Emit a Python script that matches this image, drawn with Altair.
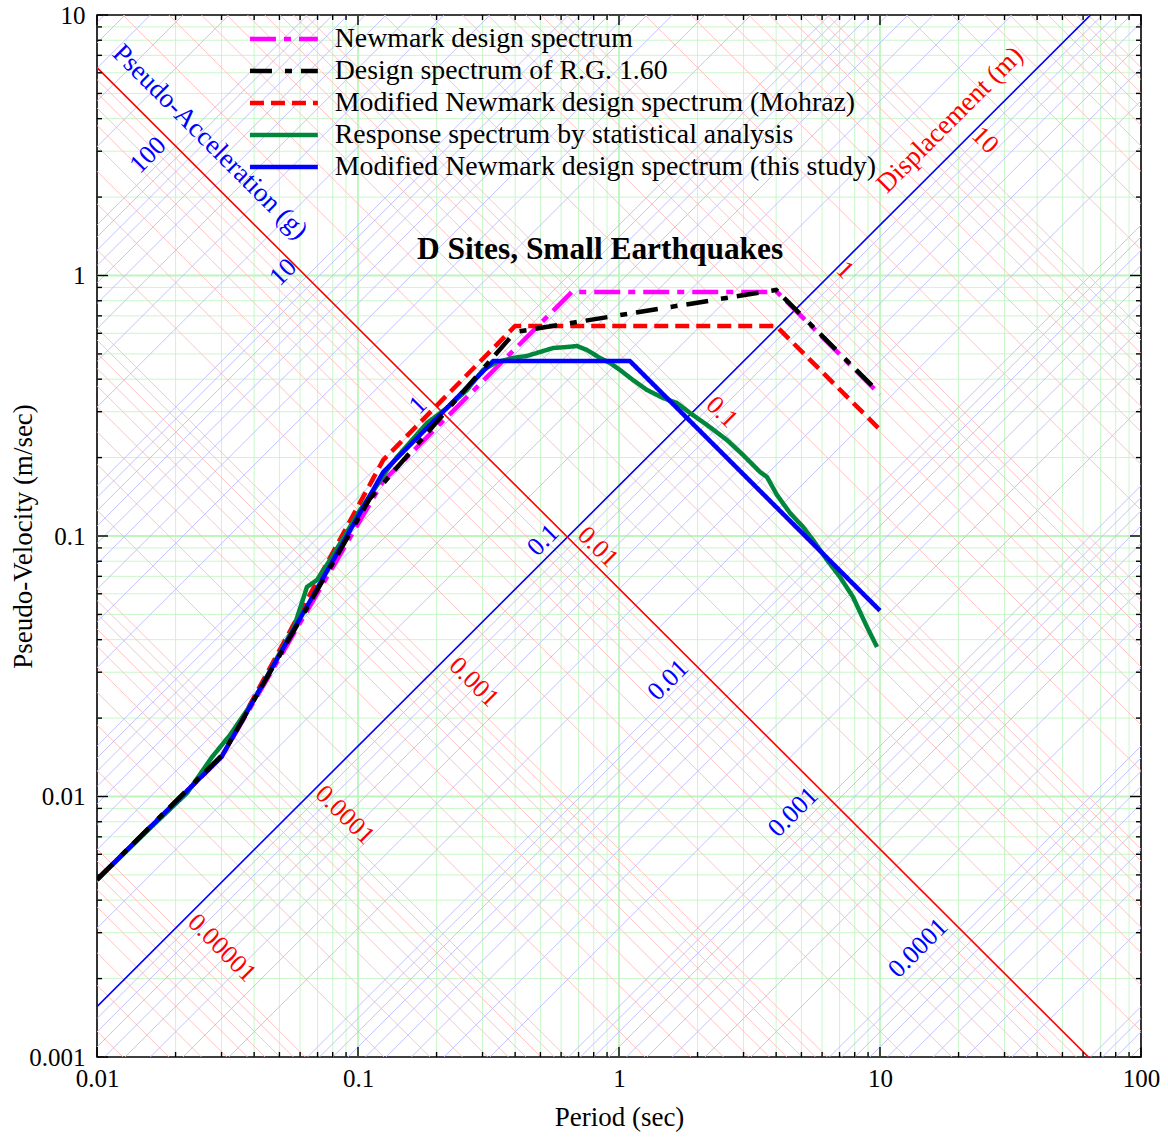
import altair as alt
import pandas as pd
import numpy as np

FONT = "Liberation Serif"
G = 9.81
TWO_PI = 2 * np.pi

T_MIN, T_MAX = 0.01, 100.0
V_MIN, V_MAX = 0.001, 10.0
W, H = 1044, 1042

# ---------------- data ----------------
series_names = [
    "Newmark design spectrum",
    "Design spectrum of R.G. 1.60",
    "Modified Newmark design spectrum (Mohraz)",
    "Response spectrum by statistical analysis",
    "Modified Newmark design spectrum (this study)",
]
series_colors = ["#ff00ff", "#000000", "#ff0000", "#00873c", "#0000ff"]
series_dashes = [[26, 8, 7, 8], [22, 13, 7, 9], [14, 7], [1, 0], [1, 0]]

newmark_T = [0.01, 0.03, 0.125, 0.66, 4.03, 10.0]
newmark_V = [0.0048, 0.0142, 0.1626, 0.865, 0.865, 0.349]

rg160_T = [0.01, 0.0303, 0.111, 0.4, 4.0, 10.0]
rg160_V = [0.0048, 0.0145, 0.139, 0.607, 0.88, 0.352]

mohraz_T = [0.01, 0.03, 0.125, 0.4, 4.0, 10.0]
mohraz_V = [0.0048, 0.0142, 0.196, 0.64, 0.64, 0.256]

study_T = [0.01, 0.03, 0.125, 0.33, 1.1, 10.0]
study_V = [0.0048, 0.0142, 0.176, 0.47, 0.47, 0.0517]

stat_T = [0.01, 0.01555, 0.02212, 0.02758, 0.03233, 0.03995, 0.05686,
          0.06374, 0.06965, 0.07811, 0.08838, 0.1018, 0.1151, 0.1291, 0.1411,
          0.1838, 0.2193, 0.2616, 0.3012, 0.3408, 0.3925, 0.4441, 0.4981,
          0.5587, 0.6321, 0.6903, 0.7541, 0.8456, 0.9237, 1.009, 1.131, 1.280,
          1.474, 1.668, 1.871, 2.174, 2.593, 2.987, 3.469, 3.690, 4.031, 4.521,
          5.070, 5.538, 6.266, 7.025, 7.881, 8.919, 9.739]
stat_V = [0.00478, 0.00737, 0.01031, 0.01417, 0.01722, 0.02347, 0.04473,
          0.0637, 0.0678, 0.08089, 0.09913, 0.1258, 0.1502, 0.1792, 0.2010,
          0.2716, 0.3100, 0.3636, 0.4338, 0.4655, 0.4825, 0.4911, 0.5086,
          0.5268, 0.5315, 0.5362, 0.5176, 0.4825, 0.4616, 0.4338, 0.3970, 0.3636,
          0.3387, 0.3240, 0.2966, 0.2668, 0.2336, 0.2046, 0.1761, 0.1684, 0.1437, 0.1225,
          0.1083, 0.09652, 0.08089, 0.06962, 0.05832, 0.04473, 0.0375]

series_T = [newmark_T, rg160_T, mohraz_T, stat_T, study_T]
series_V = [newmark_V, rg160_V, mohraz_V, stat_V, study_V]
draw_order = [0, 2, 3, 4, 1]

x_major = [0.01, 0.1, 1, 10, 100]
y_major = [0.001, 0.01, 0.1, 1, 10]
x_minor = [m * 10.0 ** k for k in range(-2, 2) for m in range(2, 10)]
y_minor = [m * 10.0 ** k for k in range(-3, 1) for m in range(2, 10)]

# diagonal axis labels
acc_label_text = ["100", "10", "1", "0.1", "0.01", "0.001", "0.0001"]
acc_label_T = [0.01568, 0.05161, 0.1698, 0.5115, 1.541, 4.642, 13.98]
acc_label_V = [2.901, 1.031, 0.3184, 0.0965, 0.02801, 0.008719, 0.002621]
disp_label_text = ["10", "1", "0.1", "0.01", "0.001", "0.0001", "0.00001"]
disp_label_T = [25.26, 7.343, 2.481, 0.8307, 0.2782, 0.08915, 0.03012]
disp_label_V = [3.313, 1.050, 0.2992, 0.09073, 0.02751, 0.008492, 0.002621]

chart_title = "D Sites, Small Earthquakes"
title_T, title_V = 0.846, 1.253
acc_title = "Pseudo-Acceleration (g)"
acc_title_T, acc_title_V = 0.0271, 3.254
disp_title = "Displacement (m)"
disp_title_T, disp_title_V = 18.54, 3.953

# ---------------- scales / axes ----------------
xs = alt.Scale(type="log", domain=[T_MIN, T_MAX])
ys = alt.Scale(type="log", domain=[V_MIN, V_MAX])

X_AX = alt.Axis(
    values=x_major, format="~g", labelFont=FONT, labelFontSize=25,
    labelColor="black", labelPadding=9, ticks=False, domain=False, grid=False,
    labelFlush=False, labelOverlap=False,
    title="Period (sec)", titleFont=FONT, titleFontSize=27,
    titleFontWeight="normal", titleColor="black", titleY=60,
    titleBaseline="middle")
Y_AX = alt.Axis(
    values=y_major, format="~g", labelFont=FONT, labelFontSize=25,
    labelColor="black", labelPadding=12, ticks=False, domain=False, grid=False,
    labelFlush=False, labelOverlap=False,
    title="Pseudo-Velocity (m/sec)", titleFont=FONT, titleFontSize=27,
    titleFontWeight="normal", titleColor="black", titleX=-74,
    titleBaseline="middle")


def X(field="T"):
    return alt.X(f"{field}:Q", scale=xs, axis=X_AX)


def Y(field="V"):
    return alt.Y(f"{field}:Q", scale=ys, axis=Y_AX)


GRID_GREEN = "#bdf5bd"
LIGHT_RED = "#ffbcbc"
LIGHT_BLUE = "#bcbcff"

layers = []

# green grid
vg = pd.DataFrame({"T": x_major[1:-1] + x_minor,
                   "w": [1.8] * 3 + [0.8] * len(x_minor)})
layers.append(alt.Chart(vg).mark_rule(color=GRID_GREEN).encode(
    x=X(), strokeWidth=alt.StrokeWidth("w:Q", scale=None)))

hg = pd.DataFrame({"V": y_major[1:-1] + y_minor,
                   "w": [1.8] * 3 + [0.8] * len(y_minor)})
layers.append(alt.Chart(hg).mark_rule(color=GRID_GREEN).encode(
    y=Y(), strokeWidth=alt.StrokeWidth("w:Q", scale=None)))

# tripartite diagonal grid
rows = []
for k in range(-6, 4):
    for m in range(1, 10):
        val = m * 10.0 ** k
        for t in (T_MIN, T_MAX):
            rows.append({"id": f"a{k}_{m}", "T": t, "V": val * G * t / TWO_PI, "c": LIGHT_BLUE})
            rows.append({"id": f"d{k}_{m}", "T": t, "V": TWO_PI * val / t, "c": LIGHT_RED})
diag = pd.DataFrame(rows)
layers.append(alt.Chart(diag).mark_line(clip=True, strokeWidth=0.9).encode(
    x=X(), y=Y(), detail="id:N", color=alt.Color("c:N", scale=None)))

main_rows = []
for t in (T_MIN, T_MAX):
    main_rows.append({"id": "acc", "T": t, "V": 0.1 * G * t / TWO_PI, "c": "#0000ff"})
    main_rows.append({"id": "disp", "T": t, "V": TWO_PI * 0.01 / t, "c": "#ff0000"})
layers.append(alt.Chart(pd.DataFrame(main_rows)).mark_line(clip=True, strokeWidth=1.6).encode(
    x=X(), y=Y(), detail="id:N", color=alt.Color("c:N", scale=None)))

# diagonal labels
lab = pd.DataFrame({
    "txt": acc_label_text + disp_label_text + [acc_title, disp_title],
    "T": acc_label_T + disp_label_T + [acc_title_T, disp_title_T],
    "V": acc_label_V + disp_label_V + [acc_title_V, disp_title_V],
    "ang": [315] * 7 + [45] * 7 + [45, 315],
    "c": ["#0000ff"] * 7 + ["#ff0000"] * 7 + ["#0000ff", "#ff0000"],
    "fs": [26] * 14 + [27, 27],
})
layers.append(alt.Chart(lab).mark_text(font=FONT, baseline="middle", align="center").encode(
    x=X(), y=Y(), text="txt:N",
    angle=alt.Angle("ang:Q", scale=None),
    color=alt.Color("c:N", scale=None),
    size=alt.Size("fs:Q", scale=None)))

layers.append(alt.Chart(pd.DataFrame({"T": [title_T], "V": [title_V], "txt": [chart_title]}))
              .mark_text(font=FONT, fontSize=31.4, fontWeight="bold", color="black",
                         baseline="middle", align="center").encode(
    x=X(), y=Y(), text="txt:N"))

# spectra
sdf = pd.DataFrame([
    {"series": series_names[i], "T": t, "V": v}
    for i in range(5) for t, v in zip(series_T[i], series_V[i])
])
# long horizontal stroke as a custom legend symbol (small nominal size keeps rows compact)
legend = alt.Legend(title=None, orient="none", legendX=173, legendY=10,
                    symbolType="M-6,0H6", symbolSize=128, symbolStrokeWidth=4.5,
                    labelFont=FONT, labelFontSize=27.8, labelColor="black",
                    labelOffset=37, rowPadding=3, padding=0, labelLimit=800)
for i in draw_order:
    layers.append(alt.Chart(sdf).transform_filter(
        alt.datum.series == series_names[i]).mark_line(
        strokeWidth=4.5, strokeCap="butt", clip=True).encode(
        x=X(), y=Y(),
        color=alt.Color("series:N", sort=series_names,
                        scale=alt.Scale(domain=series_names, range=series_colors),
                        legend=legend),
        strokeDash=alt.StrokeDash("series:N", sort=series_names,
                                  scale=alt.Scale(domain=series_names, range=series_dashes),
                                  legend=legend),
        order=alt.Order("T:Q")))


# inward ticks on all four sides
def xticks(vals, length, side):
    df = pd.DataFrame({"T": vals})
    if side == "bottom":
        yv, y2v = alt.value(H), alt.value(H - length)
    else:
        yv, y2v = alt.value(0), alt.value(length)
    return alt.Chart(df).mark_rule(color="black", strokeWidth=1.4).encode(
        x=X(), y=yv, y2=y2v)


def yticks(vals, length, side):
    df = pd.DataFrame({"V": vals})
    if side == "left":
        xv, x2v = alt.value(0), alt.value(length)
    else:
        xv, x2v = alt.value(W), alt.value(W - length)
    return alt.Chart(df).mark_rule(color="black", strokeWidth=1.4).encode(
        y=Y(), x=xv, x2=x2v)


for side in ("bottom", "top"):
    layers.append(xticks(x_major, 10, side))
    layers.append(xticks(x_minor, 5, side))
for side in ("left", "right"):
    layers.append(yticks(y_major, 11, side))
    layers.append(yticks(y_minor, 5, side))

chart = alt.layer(*layers).properties(
    width=W, height=H,
    autosize=alt.AutoSizeParams(type="none"),
    padding={"left": 97, "top": 15, "right": 27, "bottom": 80},
    background="white",
).configure_view(stroke="black", strokeWidth=1.6)

chart.save("out.html", embed_options={"renderer": "svg", "actions": False})
